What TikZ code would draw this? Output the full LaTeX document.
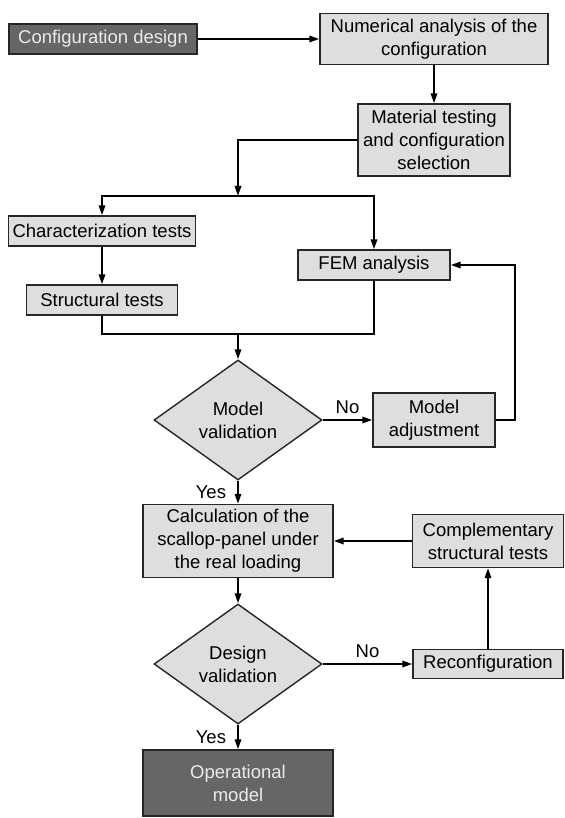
\documentclass[tikz,border=0pt]{standalone}
\usepackage{fontspec}
\setmainfont{Liberation Sans}
\usetikzlibrary{shapes.geometric,arrows.meta}
\definecolor{boxgray}{HTML}{DEDEDE}
\definecolor{boxdark}{HTML}{666666}

\begin{document}
\begin{tikzpicture}[x=0.5pt,y=-0.5pt,
    every node/.style={font=\fontsize{9.25}{11.5}\selectfont,align=center,inner sep=0pt},
    box/.style={rectangle,draw=black!85,line width=0.7pt,fill=boxgray},
    darkbox/.style={box,fill=boxdark,text=white!92!black},
    decision/.style={diamond,draw=black!85,line width=0.7pt,fill=boxgray,minimum width=84pt,minimum height=60pt},
    line/.style={line width=1pt},
    arr/.style={line,-{Triangle[length=5pt,width=3.2pt]}}]
      \useasboundingbox (0,0) rectangle (564,818);
      \node (cd) [darkbox,minimum width=94pt,minimum height=15pt] at (103,39) {Configuration design};
      \node (na) [box,minimum width=114pt,minimum height=25.5pt] at (434,39) {Numerical analysis of the\\configuration};
      \node (mt) [box,minimum width=76pt,minimum height=36pt] at (434,140) {Material testing\\and configuration\\selection};
      \node (ct) [box,minimum width=93.5pt,minimum height=15pt] at (102,231) {Characterization tests};
      \node (st) [box,minimum width=75.5pt,minimum height=15pt] at (102,300) {Structural tests};
      \node (fem) [box,minimum width=76pt,minimum height=15pt] at (374,265) {FEM analysis};
      \node (mv) [decision] at (238,420) {Model\\validation};
      \node (ma) [box,minimum width=61pt,minimum height=27pt] at (434,420) {Model\\adjustment};
      \node (calc) [box,minimum width=95pt,minimum height=36.5pt] at (238,541) {Calculation of the\\scallop-panel under\\the real loading};
      \node (comp) [box,minimum width=75.5pt,minimum height=26.5pt] at (488,541) {Complementary\\structural tests};
      \node (dv) [decision] at (238,664) {Design\\validation};
      \node (rec) [box,minimum width=75pt,minimum height=14.5pt] at (488,664) {Reconfiguration};
      \node (om) [darkbox,minimum width=95pt,minimum height=33pt] at (238,783) {Operational\\model};
      \coordinate (split) at (238,196);
      \coordinate (merge) at (238,334);
      \draw [arr] (cd) -- (na);
      \draw [arr] (na) -- (mt);
      \draw [arr] (mt.west) -| (split);
      \foreach \n in {ct,fem}{
        \draw [arr] (split) -| (\n);
      }
      \draw [arr] (ct) -- (st);
      \foreach \n in {st,fem}{
        \draw [line] (\n) |- (merge);
      }
      \draw [arr] (merge) -- (mv);
      \draw [arr] (mv) -- node[above=2.5pt] {No} (ma);
      \draw [arr] (ma.east) -- ++(19,0) |- (fem.east);
      \draw [arr] (mv) -- node[left=5.5pt] {Yes} (calc);
      \draw [arr] (comp) -- (calc);
      \draw [arr] (calc) -- (dv);
      \draw [arr] (dv) -- node[above=2.5pt] {No} (rec);
      \draw [arr] (rec) -- (comp);
      \draw [arr] (dv) -- node[left=5.5pt] {Yes} (om);
    \end{tikzpicture}
\end{document}
